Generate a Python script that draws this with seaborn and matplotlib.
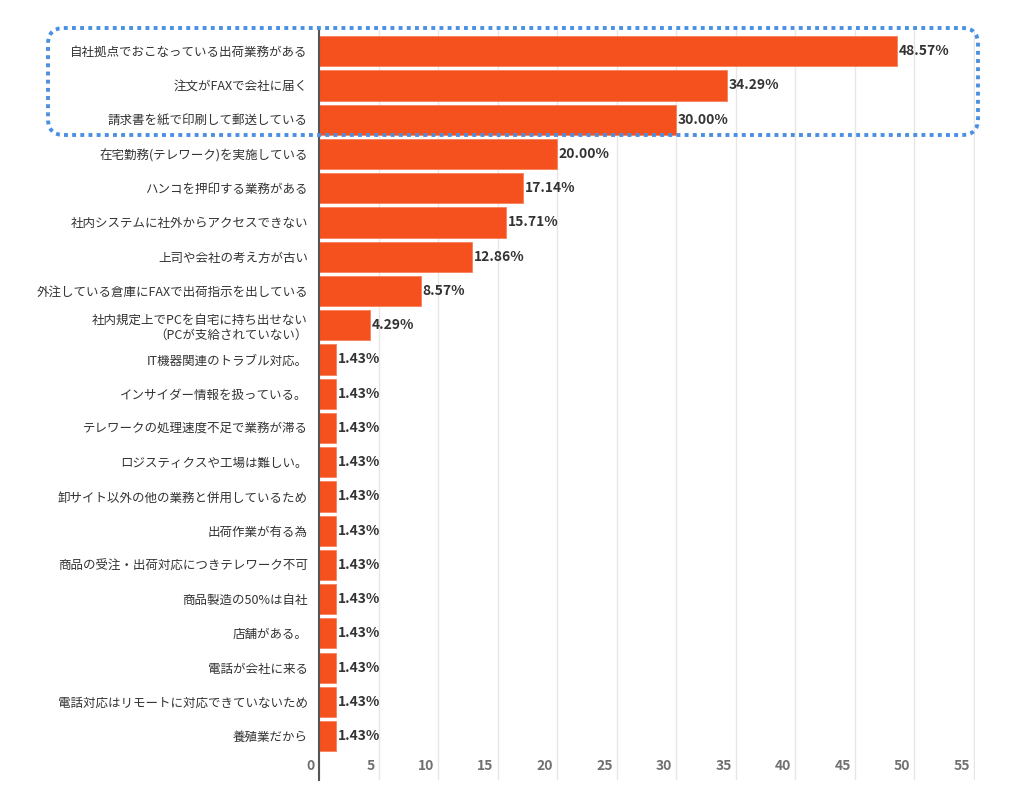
import matplotlib
matplotlib.use("Agg")
import matplotlib.pyplot as plt
import matplotlib.transforms as mtransforms
from matplotlib.patches import FancyBboxPatch
import pandas as pd
import seaborn as sns

reasons = [
    "自社拠点でおこなっている出荷業務がある",
    "注文がFAXで会社に届く",
    "請求書を紙で印刷して郵送している",
    "在宅勤務(テレワーク)を実施している",
    "ハンコを押印する業務がある",
    "社内システムに社外からアクセスできない",
    "上司や会社の考え方が古い",
    "外注している倉庫にFAXで出荷指示を出している",
    "社内規定上でPCを自宅に持ち出せない\n（PCが支給されていない）",
    "IT機器関連のトラブル対応。",
    "インサイダー情報を扱っている。",
    "テレワークの処理速度不足で業務が滞る",
    "ロジスティクスや工場は難しい。",
    "卸サイト以外の他の業務と併用しているため",
    "出荷作業が有る為",
    "商品の受注・出荷対応につきテレワーク不可",
    "商品製造の50%は自社",
    "店舗がある。",
    "電話が会社に来る",
    "電話対応はリモートに対応できていないため",
    "養殖業だから",
]
percent = [48.57, 34.29, 30.00, 20.00, 17.14, 15.71, 12.86, 8.57, 4.29,
           1.43, 1.43, 1.43, 1.43, 1.43, 1.43, 1.43, 1.43, 1.43, 1.43, 1.43, 1.43]
x_ticks = list(range(0, 60, 5))

df = pd.DataFrame({"reason": reasons, "percent": percent})

sns.set_theme(style="white")
plt.rcParams["font.family"] = ["Noto Sans CJK JP", "DejaVu Sans"]

fig = plt.figure(figsize=(10.24, 7.96), dpi=100)
ax = fig.add_axes([319 / 1024, 1 - 780 / 796, 656 / 1024, 750 / 796])

sns.barplot(data=df, x="percent", y="reason", orient="h", color="#F4511E",
            saturation=1, width=0.88, edgecolor="#F7805A", linewidth=0.6,
            ax=ax, zorder=3)

for bar, val in zip(ax.patches, percent):
    ax.text(bar.get_width() + 0.15, bar.get_y() + bar.get_height() / 2,
            f"{val:.2f}%", va="center", ha="left", fontsize=10,
            fontweight="bold", color="#333333", zorder=4)

ax.set_xlim(0, 55.1)
ax.set_ylim(21.28, -0.62)
ax.set_xticks(x_ticks)
ax.set_xticklabels([str(t) for t in x_ticks], fontweight="bold")
ax.xaxis.grid(True, color="#e6e6e6", linewidth=1, zorder=0)
ax.tick_params(axis="x", length=0, pad=-15, labelsize=10, colors="#707070")
ax.tick_params(axis="y", length=0, pad=8, labelsize=9, colors="#333333")
offset = mtransforms.ScaledTranslation(-4 / 100, 0, fig.dpi_scale_trans)
for lbl in ax.get_xticklabels():
    lbl.set_horizontalalignment("right")
    lbl.set_transform(lbl.get_transform() + offset)
for lbl in ax.get_yticklabels():
    lbl.set_multialignment("right")

ax.set_xlabel("")
ax.set_ylabel("")
for side in ["top", "right", "bottom"]:
    ax.spines[side].set_visible(False)
ax.spines["left"].set_color("#555555")
ax.spines["left"].set_linewidth(1.5)
ax.spines["left"].set_zorder(5)

# dotted highlight around the top three answers
box = FancyBboxPatch((48, 796 - 135), 930, 107,
                     boxstyle="round,pad=0,rounding_size=16",
                     transform=mtransforms.IdentityTransform(),
                     fill=False, edgecolor="#4A90E2", linewidth=2.8,
                     linestyle=(0, (1, 1.1)), zorder=10)
fig.patches.append(box)

fig.savefig("out.png", dpi=100)
